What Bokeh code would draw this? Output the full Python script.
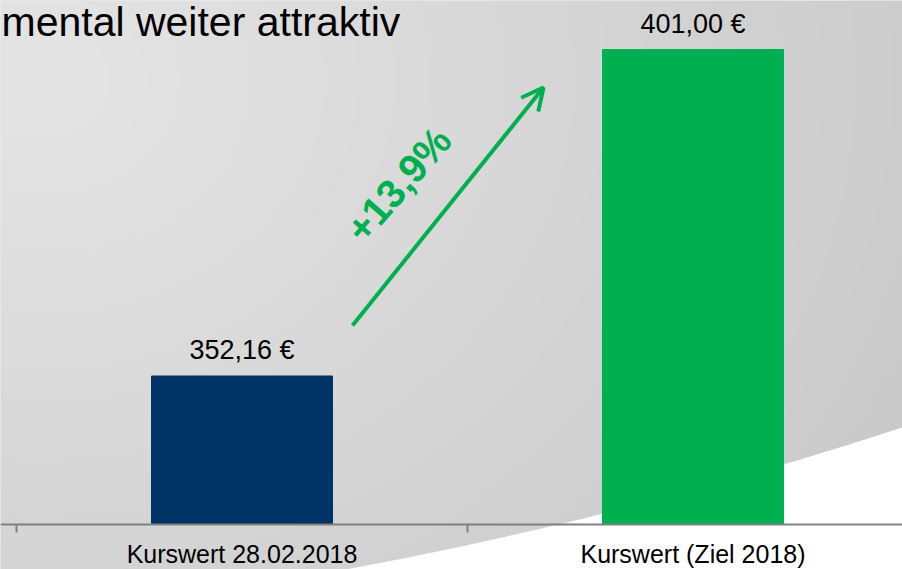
import numpy as np
from bokeh.plotting import figure
from bokeh.models import Range1d, LinearAxis, FixedTicker, ColumnDataSource, Label, Arrow, OpenHead
from bokeh.embed import file_html
from bokeh.resources import INLINE
from bokeh.core.properties import value

# ---- data ----
categories = ["Kurswert 28.02.2018", "Kurswert (Ziel 2018)"]
kurswert = [352.16, 401.00]
value_labels = ["352,16 €", "401,00 €"]
change_label = "+13,9%"
title_text = "mental weiter attraktiv"
bar_colors = ["#003366", "#00b050"]
positions = [0.5, 1.5]

# ---- layout constants ----
W, H = 902, 569
BASE = 330.0
PX_PER_X = 451.0
X0_PX = 16.0
PX_PER_Y = 6.685
Y_TOP = 408.33

def dx(px):
    return (np.asarray(px, dtype=float) - X0_PX) / PX_PER_X

def dy(py):
    return Y_TOP - np.asarray(py, dtype=float) / PX_PER_Y

x_range = Range1d(float(dx(0)), float(dx(W)))
y_range = Range1d(float(dy(H)), Y_TOP)

p = figure(width=W, height=H, x_range=x_range, y_range=y_range,
           output_backend="svg", toolbar_location=None,
           x_axis_location=None, y_axis_location=None, min_border=0)
p.outline_line_color = None
p.background_fill_color = "#d8d8d8"
p.border_fill_color = "#d8d8d8"

# ---- background gradient ----
step = 2
nx, ny = W // step + 1, H // step + 1
gx = (np.arange(nx) + 0.5) * step
gy = (np.arange(ny) + 0.5) * step
GX, GY = np.meshgrid(gx, gy)
d = np.sqrt(((GX - 40) / 1100.0) ** 2 + ((GY - 80) / 900.0) ** 2)
L = (229 - 31 * np.clip(d, 0, 1)).astype(np.uint8)
L = L[::-1, :]
img = np.empty((ny, nx), dtype=np.uint32)
view = img.view(dtype=np.uint8).reshape((ny, nx, 4))
view[:, :, 0] = L
view[:, :, 1] = L
view[:, :, 2] = L
view[:, :, 3] = 255
p.image_rgba(image=[img], x=float(dx(0)), y=float(dy(ny * step)),
             dw=float(nx * step / PX_PER_X), dh=float(ny * step / PX_PER_Y))

# ---- white swoosh ----
ax_pts = np.array([345.0, 558.0, 902.0])
ay_pts = np.array([569.0, 524.0, 427.0])
coef = np.polyfit(ax_pts, ay_pts, 2)
cx = np.linspace(300, 915, 80)
cy = np.polyval(coef, cx)
sx = np.concatenate([cx, [915, 300]])
sy = np.concatenate([cy, [620, 620]])
p.patch(x=dx(sx), y=dy(sy), fill_color="white", line_color=None)

# ---- bars ----
src = ColumnDataSource(dict(x=positions, top=kurswert, color=bar_colors,
                            label=value_labels,
                            ly=[v + 25.5 / PX_PER_Y for v in kurswert]))
p.vbar(x="x", top="top", bottom=BASE, width=181 / PX_PER_X, color="color", source=src)
p.text(x="x", y="ly", text="label", source=src, text_align="center",
       text_baseline="alphabetic", text_font=value("Liberation Sans"),
       text_font_size="27px", text_color="#000000")

# ---- title ----
p.add_layout(Label(x=float(dx(1)), y=float(dy(21)), text=title_text,
                   text_font="Liberation Sans", text_font_size="41px",
                   text_color="#000000", text_baseline="alphabetic"))

# ---- change arrow + label ----
green = "#00b050"
p.add_layout(Arrow(x_start=float(dx(352)), y_start=float(dy(325)),
                   x_end=float(dx(543)), y_end=float(dy(87)),
                   line_color=green, line_width=4,
                   end=OpenHead(size=22, line_color=green, line_width=4)))
p.add_layout(Label(x=float(dx(398)), y=float(dy(184)), text=change_label,
                   angle=49, angle_units="deg", text_align="center",
                   text_baseline="middle", text_font="Liberation Sans",
                   text_font_style="bold", text_font_size="40px",
                   text_color=green))

# ---- category axis ----
xaxis = LinearAxis(ticker=FixedTicker(ticks=positions, minor_ticks=[0, 1, 2]),
                   major_label_overrides={positions[0]: categories[0],
                                          positions[1]: categories[1]},
                   fixed_location=BASE,
                   axis_line_color="#808080", axis_line_width=2,
                   major_tick_line_color=None, major_tick_out=0, major_tick_in=0,
                   minor_tick_line_color="#808080", minor_tick_line_width=2,
                   minor_tick_out=8, minor_tick_in=0,
                   major_label_text_font="Liberation Sans",
                   major_label_text_font_size="25px",
                   major_label_text_color="#000000",
                   major_label_standoff=8)
p.add_layout(xaxis, "below")

open("out.html", "w").write(file_html(p, INLINE))
